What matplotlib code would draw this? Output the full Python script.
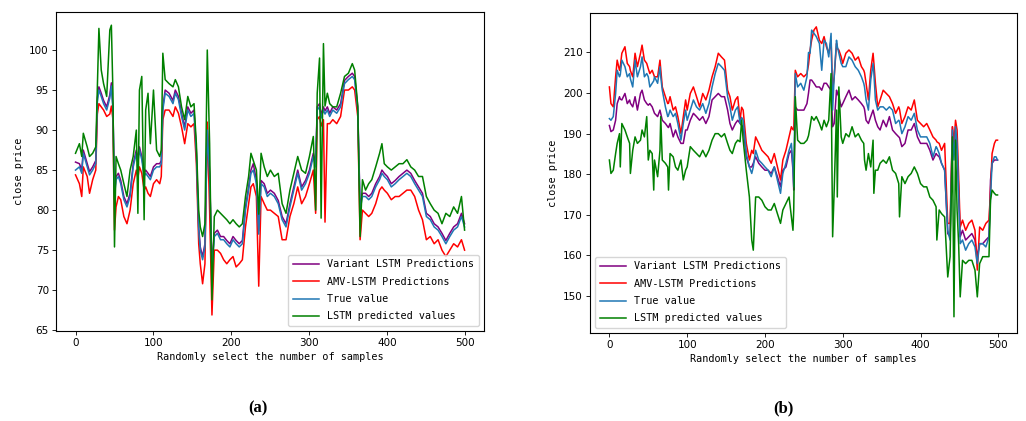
import matplotlib
matplotlib.use('Agg')
from matplotlib import pyplot as plt

# ---- panel (a) ----
x_a = [0, 5, 8, 10, 15, 18, 22, 26, 28, 30,
       33, 36, 40, 44, 46, 48, 50, 52, 55, 58,
       62, 66, 70, 74, 78, 80, 82, 85, 88, 90,
       93, 96, 100, 104, 108, 110, 112, 115, 120, 125,
       128, 132, 136, 140, 144, 148, 152, 155, 158, 160,
       163, 166, 169, 172, 175, 178, 182, 186, 190, 194,
       198, 202, 206, 210, 214, 218, 222, 225, 228, 232,
       235, 238, 242, 246, 250, 255, 260, 265, 270, 275,
       280, 285, 290, 295, 300, 305, 308, 310, 313, 315,
       318, 320, 323, 326, 330, 335, 340, 345, 350, 355,
       358, 362, 365, 368, 372, 376, 380, 385, 390, 393,
       396, 400, 405, 410, 415, 420, 425, 430, 435, 440,
       445, 450, 455, 460, 465, 470, 475, 480, 485, 490,
       495, 499]
variant_a = [86.0, 85.8, 85.0, 87.5, 85.8, 84.8, 85.4, 86.2, 94.0, 95.4,
             94.6, 93.7, 92.9, 94.4, 95.9, 92.9, 82.0, 84.2, 84.6, 83.7,
             81.7, 80.8, 82.1, 85.8, 87.5, 86.4, 87.9, 86.7, 84.6, 85.0,
             84.6, 84.2, 85.4, 85.8, 85.8, 86.2, 92.9, 95.0, 94.6, 93.7,
             95.0, 94.2, 92.1, 90.4, 92.9, 92.1, 92.5, 87.5, 77.9, 75.4,
             74.2, 75.8, 90.4, 84.6, 72.9, 77.1, 77.5, 76.7, 76.7, 76.2,
             75.8, 76.7, 76.2, 75.8, 76.2, 80.4, 82.9, 85.0, 85.8, 83.7,
             77.4, 83.7, 83.3, 82.1, 82.5, 82.1, 81.2, 79.2, 78.3, 80.8,
             82.9, 85.0, 82.9, 83.7, 85.0, 87.1, 85.8, 92.9, 93.3, 91.9,
             92.9, 92.4, 92.9, 92.1, 92.9, 92.5, 93.3, 96.2, 96.7, 97.1,
             96.7, 92.9, 80.4, 82.1, 82.1, 81.7, 82.1, 83.3, 84.2, 85.0,
             84.6, 84.2, 83.3, 83.7, 84.2, 84.6, 85.0, 84.6, 83.7, 82.9,
             82.1, 79.6, 79.2, 78.3, 77.9, 77.1, 76.2, 77.1, 77.9, 78.3,
             79.6, 78.3]
amv_a = [84.4, 83.3, 81.7, 85.4, 84.2, 82.1, 83.8, 85.0, 92.0, 93.3,
         92.9, 92.5, 91.7, 92.0, 93.0, 91.3, 77.5, 80.4, 81.7, 81.3,
         79.2, 78.3, 80.0, 83.3, 85.0, 84.0, 85.4, 84.6, 82.5, 82.9,
         82.1, 81.7, 83.3, 83.8, 83.3, 84.2, 91.3, 92.5, 92.5, 91.7,
         92.9, 92.1, 90.4, 88.3, 90.8, 90.4, 90.8, 85.8, 75.8, 73.3,
         70.8, 73.3, 91.0, 80.0, 66.9, 75.0, 75.0, 74.6, 73.8, 73.3,
         73.8, 74.2, 72.9, 73.3, 73.8, 77.9, 80.8, 82.9, 83.3, 81.7,
         70.5, 81.7, 80.8, 80.0, 80.0, 79.6, 79.2, 76.3, 76.3, 79.2,
         80.8, 82.9, 80.8, 81.7, 83.3, 85.0, 79.6, 91.3, 91.7, 90.5,
         91.3, 78.5, 90.8, 90.8, 91.3, 90.8, 91.7, 95.0, 95.0, 95.4,
         95.0, 91.7, 76.3, 80.0, 79.6, 79.2, 79.6, 80.8, 82.5, 82.9,
         82.5, 82.1, 81.3, 81.7, 81.7, 82.1, 82.5, 82.5, 81.7, 80.0,
         78.8, 76.3, 76.7, 75.8, 76.3, 75.0, 74.2, 75.0, 75.8, 75.4,
         76.3, 75.0]
true_a = [85.0, 85.4, 84.6, 87.1, 85.4, 84.4, 85.0, 85.8, 93.5, 95.0,
          94.2, 93.3, 92.5, 94.0, 95.5, 92.5, 81.7, 83.8, 84.2, 83.3,
          81.3, 80.4, 81.7, 85.4, 87.1, 86.0, 87.5, 86.3, 84.2, 84.6,
          84.2, 83.8, 85.0, 85.4, 85.4, 85.8, 92.5, 94.6, 94.2, 93.3,
          94.6, 93.8, 91.7, 90.0, 92.5, 91.7, 92.1, 87.1, 77.5, 75.0,
          73.8, 75.4, 90.0, 84.2, 72.5, 76.7, 77.1, 76.3, 76.3, 75.8,
          75.4, 76.3, 75.8, 75.4, 75.8, 80.0, 82.5, 84.6, 85.0, 83.3,
          77.0, 83.3, 82.9, 81.7, 82.1, 81.7, 80.8, 78.8, 77.9, 80.4,
          82.5, 84.6, 82.5, 83.3, 84.6, 86.7, 85.4, 92.5, 92.9, 91.5,
          92.5, 92.0, 92.5, 91.7, 92.5, 92.1, 92.9, 95.8, 96.3, 96.7,
          96.3, 92.5, 80.0, 81.7, 81.7, 81.3, 81.7, 82.9, 83.8, 84.6,
          84.2, 83.8, 82.9, 83.3, 83.8, 84.2, 84.6, 84.2, 83.3, 82.5,
          81.7, 79.2, 78.8, 77.9, 77.5, 76.7, 75.8, 76.7, 77.5, 77.9,
          79.2, 77.9]
lstm_a = [87.1, 88.3, 86.7, 89.6, 87.9, 86.7, 87.1, 87.9, 95.4, 102.7,
          97.5, 95.8, 94.2, 102.5, 103.1, 94.6, 75.4, 86.7, 85.8, 85.0,
          83.3, 81.7, 85.0, 86.7, 90.0, 79.6, 95.0, 96.7, 78.8, 92.5,
          94.6, 88.3, 95.0, 87.5, 86.7, 87.5, 99.6, 96.3, 95.8, 95.4,
          96.3, 95.4, 92.9, 91.3, 94.2, 92.9, 93.3, 88.3, 80.0, 77.9,
          76.7, 78.3, 100.0, 88.3, 68.8, 79.2, 80.0, 79.6, 79.2, 78.8,
          78.3, 78.8, 78.3, 77.9, 78.3, 81.7, 84.2, 87.1, 86.2, 85.0,
          79.5, 87.1, 85.4, 84.2, 85.0, 84.2, 84.6, 80.8, 79.6, 82.5,
          84.6, 86.7, 85.0, 84.6, 86.7, 89.2, 80.0, 94.6, 99.0, 79.0,
          100.8, 93.0, 94.6, 93.3, 92.9, 92.9, 94.6, 96.7, 97.1, 98.3,
          97.5, 93.0, 76.7, 83.8, 82.5, 83.3, 83.8, 85.4, 87.1, 88.3,
          85.8, 85.4, 85.0, 85.4, 85.8, 85.8, 86.3, 85.4, 85.0, 84.2,
          84.2, 81.7, 80.8, 80.0, 79.6, 78.3, 79.6, 79.2, 80.4, 79.6,
          81.7, 77.5]

# ---- panel (b) ----
x_b = [0, 2, 5, 8, 10, 13, 14, 16, 20, 23,
       26, 27, 30, 33, 36, 40, 42, 45, 48, 50,
       52, 55, 57, 58, 62, 65, 66, 68, 72, 75,
       76, 78, 82, 85, 88, 92, 95, 98, 100, 104,
       108, 112, 116, 120, 124, 128, 132, 136, 140, 144,
       148, 152, 155, 158, 162, 165, 168, 170, 172, 176,
       180, 183, 185, 188, 192, 196, 200, 204, 208, 212,
       216, 220, 223, 227, 231, 234, 236, 237, 239, 242,
       246, 250, 254, 256, 258, 260, 263, 266, 270, 273,
       276, 279, 282, 285, 287, 289, 292, 293, 295, 298,
       300, 304, 308, 312, 316, 320, 324, 327, 328, 330,
       333, 336, 339, 340, 342, 345, 348, 352, 356, 360,
       364, 368, 372, 373, 376, 380, 384, 388, 392, 396,
       400, 404, 408, 412, 416, 420, 421, 424, 427, 431,
       435, 438, 441, 443, 445, 447, 449, 451, 454, 458,
       462, 466, 470, 473, 476, 480, 484, 488, 490, 492,
       495, 497, 499]
variant_b = [192.0, 190.5, 190.9, 193.3, 197.4, 199.1, 198.5, 198.3, 199.9, 197.4,
             198.3, 197.5, 196.6, 199.1, 195.8, 199.9, 200.7, 198.3, 197.4, 197.0,
             197.4, 196.6, 195.5, 195.0, 194.2, 195.8, 195.0, 193.3, 192.5, 191.7,
             191.5, 192.5, 189.2, 190.9, 189.2, 187.6, 187.6, 190.9, 190.9, 193.3,
             195.0, 194.2, 193.3, 194.2, 192.5, 194.2, 198.3, 199.1, 199.9, 199.1,
             199.1, 195.8, 192.5, 190.9, 192.5, 193.3, 192.5, 192.0, 191.7, 184.3,
             181.8, 181.8, 182.7, 184.3, 182.7, 181.8, 181.0, 181.0, 180.2, 181.8,
             179.4, 176.9, 181.0, 181.8, 185.1, 185.9, 181.0, 176.1, 196.6, 195.8,
             195.8, 195.8, 197.4, 200.0, 203.2, 203.2, 202.4, 201.5, 201.5, 200.7,
             202.4, 202.4, 201.5, 200.7, 191.7, 192.5, 200.7, 200.0, 199.1, 196.6,
             197.4, 199.1, 200.7, 198.3, 199.1, 198.3, 197.4, 196.6, 196.0, 193.3,
             192.5, 194.2, 195.8, 195.0, 193.3, 191.7, 190.9, 193.3, 191.7, 194.2,
             190.9, 190.0, 189.2, 189.0, 186.8, 187.6, 190.9, 190.9, 192.5, 189.2,
             187.6, 187.6, 187.6, 185.9, 183.5, 185.1, 184.8, 184.3, 182.7, 181.0,
             165.4, 164.6, 191.7, 185.0, 189.2, 185.9, 176.1, 164.6, 166.2, 163.8,
             164.6, 165.4, 163.8, 159.7, 162.9, 162.9, 163.8, 164.6, 178.6, 182.7,
             183.5, 183.5, 183.5]
amv_b = [201.5, 197.4, 196.6, 204.0, 208.1, 205.6, 206.5, 209.8, 211.4, 207.3,
         206.5, 205.5, 204.0, 209.8, 206.5, 209.8, 211.8, 208.1, 207.3, 206.0,
         204.8, 205.6, 204.5, 204.0, 204.0, 208.1, 206.0, 201.5, 199.1, 197.4,
         197.5, 199.1, 195.8, 196.6, 194.2, 190.0, 194.2, 198.3, 195.8, 199.9,
         201.5, 199.1, 196.6, 199.9, 198.3, 200.7, 204.0, 206.5, 209.8, 208.9,
         208.1, 200.7, 199.1, 195.8, 198.3, 199.1, 193.3, 196.5, 195.8, 187.6,
         183.5, 185.9, 185.1, 189.2, 187.6, 185.9, 185.1, 184.3, 182.7, 185.1,
         181.8, 178.6, 183.5, 185.9, 189.2, 191.7, 191.0, 190.9, 205.6, 204.0,
         204.8, 204.0, 204.8, 207.0, 210.6, 213.0, 215.5, 216.3, 213.0, 212.2,
         213.9, 211.4, 209.8, 213.0, 200.7, 204.0, 212.2, 211.0, 210.6, 208.9,
         207.3, 209.8, 210.6, 209.8, 208.1, 208.9, 206.5, 205.6, 205.0, 202.4,
         198.3, 205.6, 209.8, 207.5, 202.4, 196.6, 198.3, 200.7, 199.9, 199.1,
         197.4, 195.0, 196.6, 196.0, 192.5, 194.2, 196.6, 195.8, 198.3, 193.3,
         192.5, 191.7, 192.5, 190.9, 189.2, 188.4, 188.0, 187.6, 185.9, 187.6,
         167.9, 167.9, 191.7, 187.6, 193.3, 190.9, 179.4, 167.0, 168.7, 166.2,
         167.9, 168.7, 166.2, 156.4, 167.0, 166.2, 167.9, 168.7, 176.1, 185.1,
         187.6, 188.4, 188.4]
true_b = [193.7, 193.3, 194.2, 199.9, 205.6, 204.0, 204.5, 208.1, 206.5, 204.0,
          204.8, 203.5, 201.5, 208.1, 204.0, 206.5, 208.9, 204.0, 204.8, 204.0,
          201.5, 202.4, 203.0, 204.0, 202.4, 206.5, 204.0, 200.7, 196.6, 194.2,
          194.5, 195.8, 194.2, 195.0, 192.5, 188.4, 192.5, 195.8, 193.3, 195.8,
          198.3, 196.6, 195.8, 197.4, 195.0, 197.4, 201.5, 204.8, 207.3, 206.5,
          205.6, 199.1, 196.6, 193.3, 195.8, 196.6, 192.5, 194.0, 193.3, 185.1,
          181.8, 180.2, 181.8, 185.9, 183.5, 182.7, 181.8, 181.0, 179.4, 181.8,
          178.6, 175.3, 180.2, 182.7, 185.9, 187.6, 182.0, 176.9, 204.8, 201.5,
          202.4, 200.7, 204.0, 210.0, 209.8, 215.5, 214.7, 213.9, 212.2, 205.6,
          213.0, 212.2, 208.9, 214.7, 195.8, 204.0, 213.0, 211.5, 209.8, 207.3,
          206.5, 206.5, 208.9, 208.1, 206.5, 205.6, 204.0, 202.4, 201.5, 198.3,
          195.8, 203.2, 207.3, 205.0, 198.3, 195.8, 196.6, 196.6, 195.8, 196.6,
          195.8, 192.5, 193.3, 193.0, 190.0, 191.7, 194.2, 193.3, 195.0, 190.9,
          189.2, 189.2, 189.2, 187.6, 184.3, 186.8, 186.5, 185.1, 182.7, 181.0,
          166.2, 163.8, 190.9, 183.5, 191.7, 187.6, 175.3, 162.9, 163.8, 161.3,
          162.9, 163.8, 162.1, 158.0, 162.9, 162.9, 162.1, 164.6, 174.4, 182.7,
          184.3, 184.3, 183.5]
lstm_b = [183.5, 180.2, 181.0, 185.1, 187.6, 190.0, 181.8, 192.5, 190.9, 189.2,
          187.6, 180.2, 185.9, 189.2, 187.6, 188.4, 190.9, 189.2, 194.2, 183.5,
          185.9, 185.1, 176.1, 183.5, 179.4, 185.9, 194.2, 183.5, 182.7, 181.8,
          176.1, 185.1, 184.3, 181.8, 181.0, 183.5, 178.6, 181.0, 181.8, 186.8,
          185.9, 185.1, 184.3, 185.9, 184.3, 185.9, 188.4, 190.0, 190.0, 189.2,
          190.0, 187.6, 185.9, 185.1, 187.6, 188.4, 188.0, 193.3, 188.4, 181.0,
          174.4, 163.8, 161.3, 174.4, 174.4, 173.6, 172.0, 171.2, 171.2, 172.8,
          170.3, 167.9, 171.2, 172.8, 174.4, 169.5, 166.2, 171.2, 199.1, 188.4,
          187.6, 187.6, 188.4, 189.5, 191.7, 194.2, 193.3, 194.2, 192.5, 190.9,
          193.3, 191.7, 193.3, 204.8, 164.6, 176.1, 195.8, 174.4, 201.5, 189.2,
          187.6, 190.0, 189.2, 191.7, 189.2, 190.0, 188.4, 187.6, 183.5, 181.0,
          185.1, 181.8, 188.4, 175.3, 181.0, 181.0, 182.7, 183.5, 182.7, 184.3,
          181.0, 180.2, 177.7, 169.5, 179.4, 177.7, 179.4, 180.2, 181.8, 180.2,
          177.7, 176.9, 176.9, 174.4, 173.6, 172.0, 163.8, 171.2, 170.3, 169.5,
          154.7, 159.7, 189.2, 144.9, 188.4, 171.2, 162.9, 149.8, 158.8, 158.0,
          158.8, 158.8, 156.4, 149.8, 158.0, 159.7, 159.7, 159.7, 173.6, 176.1,
          175.3, 174.9, 174.9]

labels = ['Variant LSTM Predictions', 'AMV-LSTM Predictions', 'True value', 'LSTM predicted values']
colors = ['purple', 'red', '#1f77b4', 'green']

mono = 'DejaVu Sans Mono'
fs = 7.3

fig = plt.figure(figsize=(10.26, 4.21), dpi=100)
ax1 = fig.add_axes([0.0546, 0.2138, 0.4172, 0.7577])
ax2 = fig.add_axes([0.5750, 0.2090, 0.4162, 0.7600])

panels = [(ax1, x_a, [variant_a, amv_a, true_a, lstm_a], (64.9, 104.75), 'lower right'),
          (ax2, x_b, [variant_b, amv_b, true_b, lstm_b], (140.9, 219.7), 'lower left')]

for ax, xs, series, ylim, loc in panels:
    for ys, lab, col in zip(series, labels, colors):
        ax.plot(xs, ys, color=col, lw=1.1, label=lab)
    ax.set_xlim(-25, 524)
    ax.set_ylim(*ylim)
    ax.set_xticks([0, 100, 200, 300, 400, 500])
    ax.tick_params(labelsize=7.5, length=2.6, width=0.6, pad=2.5)
    for sp in ax.spines.values():
        sp.set_linewidth(0.8)
    ax.set_xlabel('Randomly select the number of samples', fontfamily=mono, fontsize=fs, labelpad=3)
    ax.set_ylabel('close price', fontfamily=mono, fontsize=fs, labelpad=4)
    ax.legend(loc=loc, prop={'family': mono, 'size': fs}, handlelength=2.6,
              borderpad=0.45, labelspacing=0.72, handletextpad=0.8)

ax1.set_yticks([65, 70, 75, 80, 85, 90, 95, 100])
ax2.set_yticks([150, 160, 170, 180, 190, 200, 210])

fig.text(258 / 1026, 1 - 408 / 421, '(a)', ha='center', va='center',
         fontfamily='Liberation Serif', fontsize=12, fontweight='bold')
fig.text(783 / 1026, 1 - 408 / 421, '(b)', ha='center', va='center',
         fontfamily='Liberation Serif', fontsize=12, fontweight='bold')

fig.savefig('out.png', dpi=100)
